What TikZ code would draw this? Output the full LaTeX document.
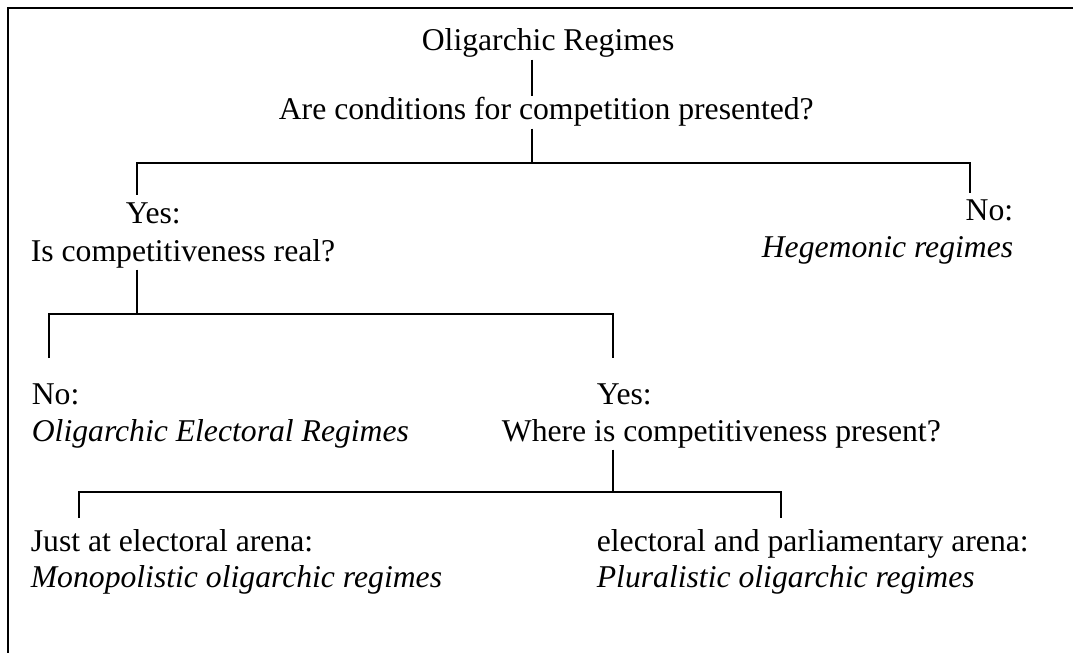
\documentclass[tikz,border=0pt]{standalone}
\usepackage{fontspec}
\setmainfont{Liberation Serif}
\usepackage{tikz}

\begin{document}
\begin{tikzpicture}[x=0.3788pt,y=-0.3788pt,
		txt/.style={inner sep=0.5pt, font=\fontsize{12}{14}\selectfont},
		ital/.style={inner sep=0.5pt, font=\fontsize{12}{14}\selectfont\itshape},
		branch/.style={line width=0.8pt}]
			\useasboundingbox (0,0) rectangle (1073,653);
			\draw[line width=0.8pt] (1073,8) -| (8,653);

			\node[txt, anchor=base west] (root) at (420,51) {Oligarchic Regimes};
			\node[txt, anchor=base west] (q1) at (277,120) {Are conditions for competition presented?};
			\node[txt, anchor=base west] (yes1) at (124,224) {Yes:};
			\node[txt, anchor=base west] (q2) at (29,261) {Is competitiveness real?};
			\node[txt, anchor=base east] (no1) at (1015,220) {No:};
			\node[ital, anchor=base east] (hege) at (1015,257) {Hegemonic regimes};
			\node[txt, anchor=base west] (no2) at (30,404) {No:};
			\node[ital, anchor=base west] (elect) at (30,441) {Oligarchic Electoral Regimes};
			\node[txt, anchor=base west] (yes2) at (595,404) {Yes:};
			\node[txt, anchor=base west] (q3) at (500,441) {Where is competitiveness present?};
			\node[txt, anchor=base west] (just) at (29,551) {Just at electoral arena:};
			\node[ital, anchor=base west] (mono) at (29,587) {Monopolistic oligarchic regimes};
			\node[txt, anchor=base west] (both) at (595,551) {electoral and parliamentary arena:};
			\node[ital, anchor=base west] (plur) at (595,587) {Pluralistic oligarchic regimes};

			%% forks
			\coordinate (h1) at (532,163);
			\coordinate (h1l) at (137,195);
			\coordinate (h1r) at (970,193);
			\coordinate (h2) at (137,314);
			\coordinate (h2l) at (49,358);
			\coordinate (h2r) at (613,358);
			\coordinate (h3) at (613,492);
			\coordinate (h3l) at (79,518);
			\coordinate (h3r) at (781,518);

			%% lines
			\draw[branch] (root.south -| h1) -- (q1.north -| h1);
			\draw[branch] (q1.south -| h1) -- (h1);
			\draw[branch] (h1l) |- (h1) -| (h1r);
			\draw[branch] (q2.south -| h2) -- (h2);
			\draw[branch] (h2l) |- (h2) -| (h2r);
			\draw[branch] (q3.south -| h3) -- (h3);
			\draw[branch] (h3l) |- (h3) -| (h3r);
		\end{tikzpicture}
\end{document}
